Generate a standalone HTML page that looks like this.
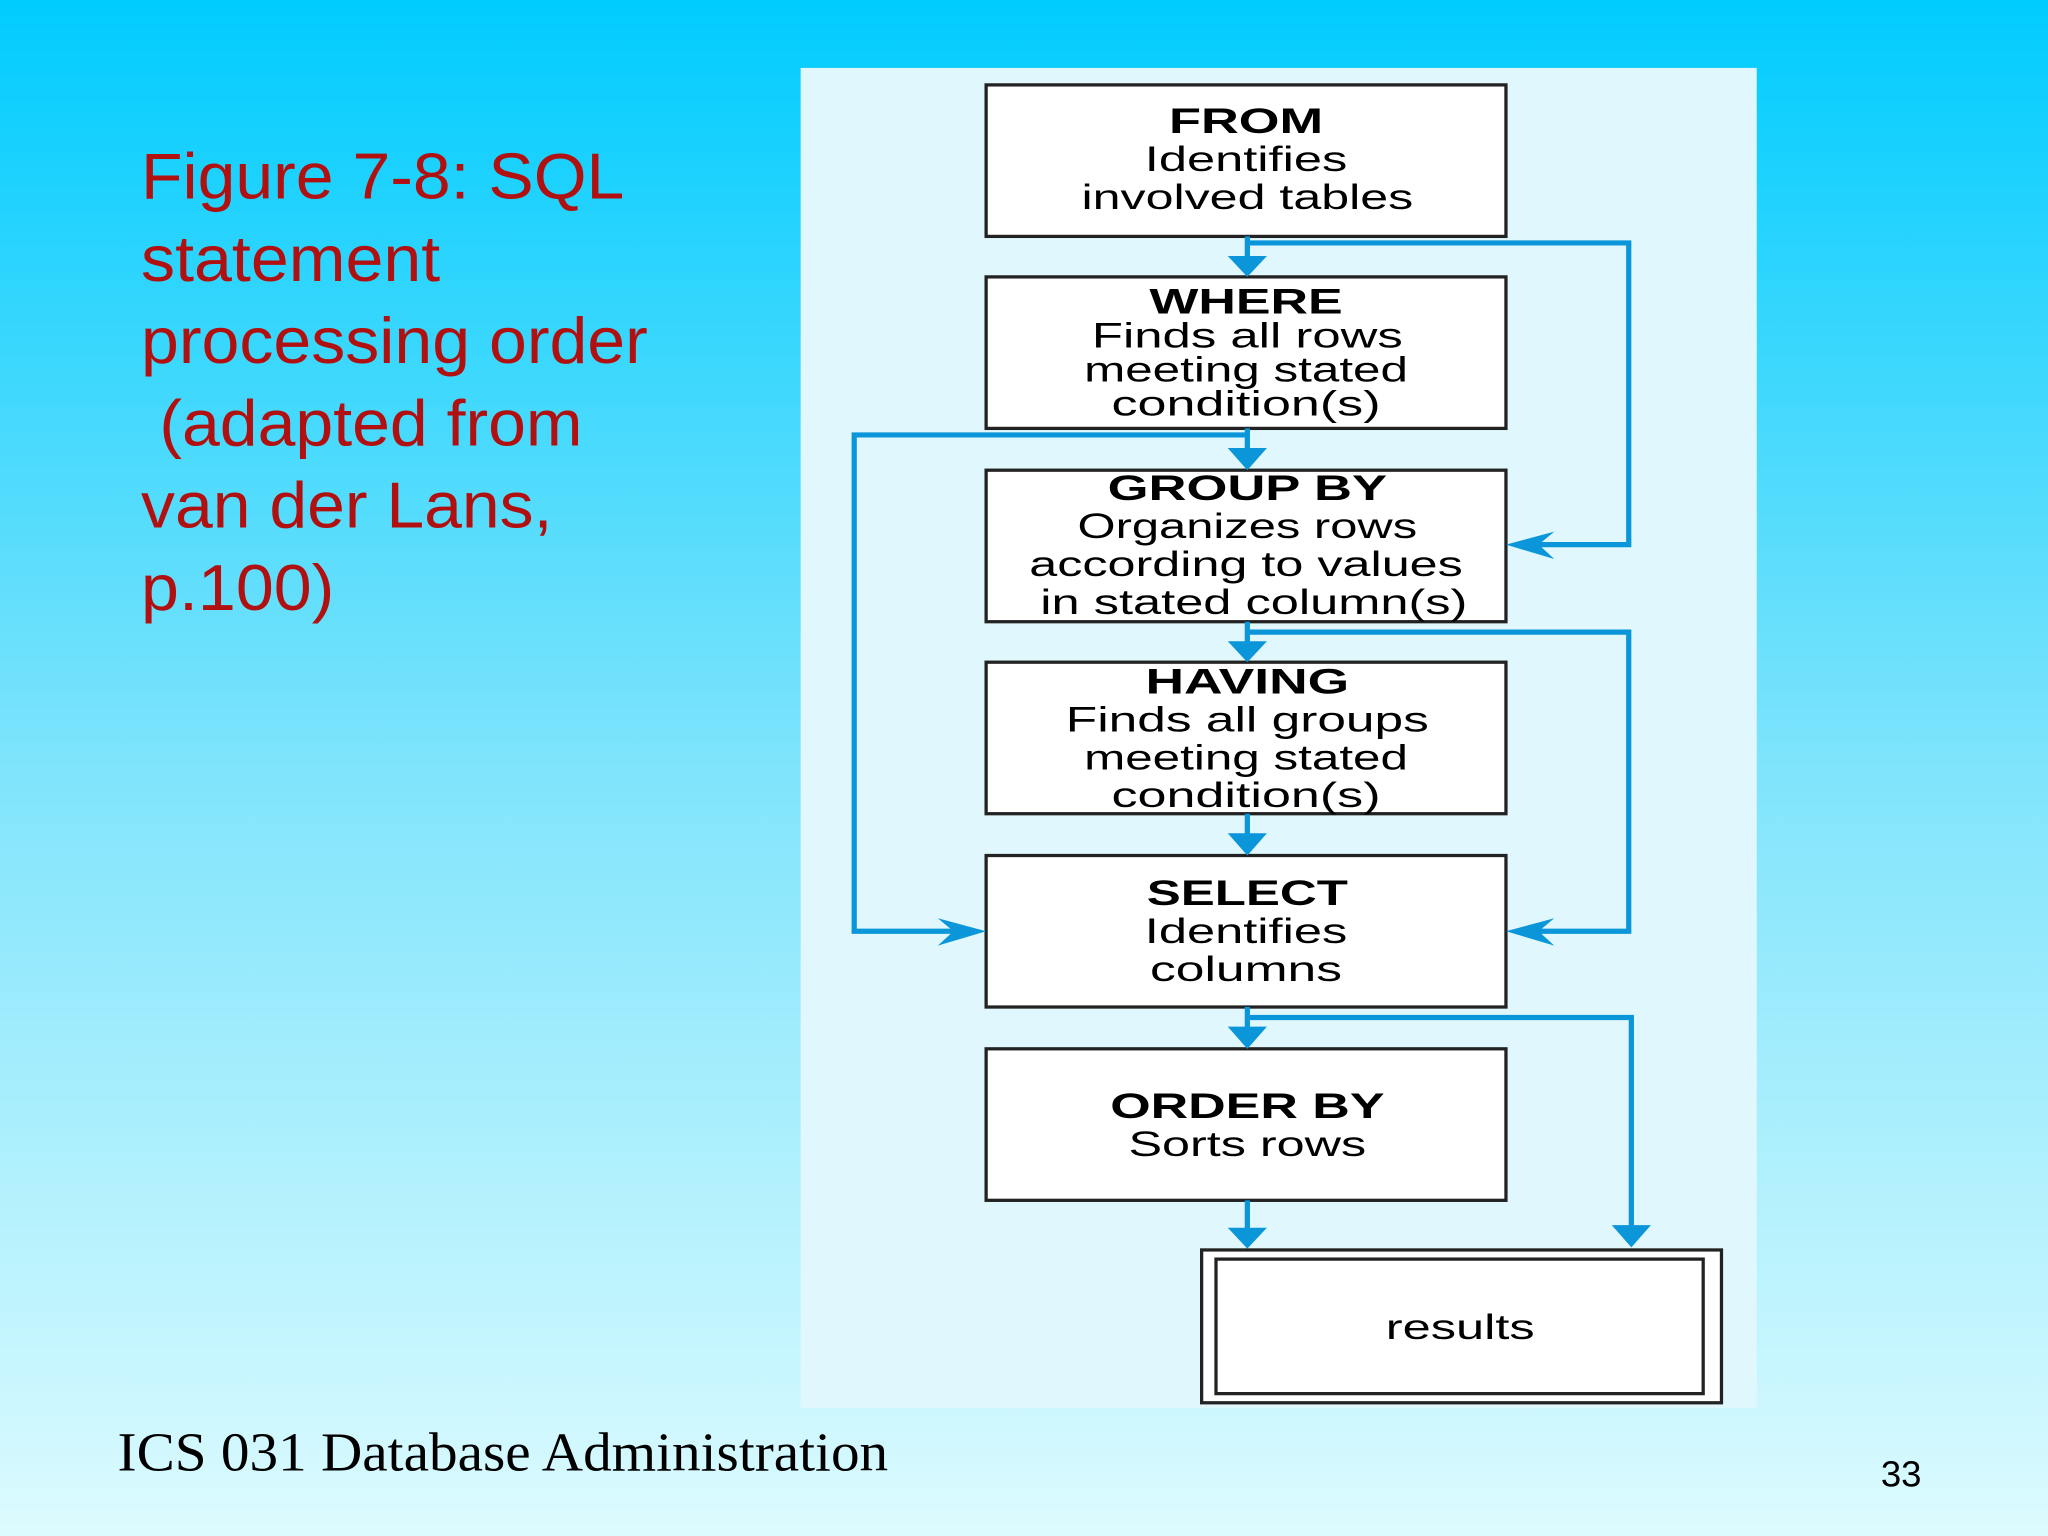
<!DOCTYPE html>
<html><head><meta charset="utf-8"><style>
html,body{margin:0;padding:0}
body{width:2048px;height:1536px;overflow:hidden;background:linear-gradient(#00ccfe,#7fe4fc 50%,#dcfbfe);}
svg{display:block}
.t{font-family:"Liberation Sans",sans-serif;fill:#000;font-size:27px;text-anchor:middle}
.h{font-weight:bold}
</style></head><body>
<svg width="2048" height="1536" viewBox="0 0 1568 1176" xmlns="http://www.w3.org/2000/svg">
<rect x="613" y="52" width="732" height="1026" fill="#e0f8fd"/>
<g font-family="Liberation Sans, sans-serif" font-size="50" fill="#b01010" lengthAdjust="spacingAndGlyphs">
<text x="108" y="152" textLength="370" lengthAdjust="spacingAndGlyphs">Figure 7-8: SQL</text>
<text x="108" y="215" textLength="229" lengthAdjust="spacingAndGlyphs">statement</text>
<text x="108" y="278" textLength="388" lengthAdjust="spacingAndGlyphs">processing order</text>
<text x="122" y="341" textLength="324" lengthAdjust="spacingAndGlyphs">(adapted from</text>
<text x="108" y="404" textLength="315" lengthAdjust="spacingAndGlyphs">van der Lans,</text>
<text x="108" y="467" textLength="148" lengthAdjust="spacingAndGlyphs">p.100)</text>
</g>
<text x="90" y="1126" font-family="Liberation Serif, serif" font-size="42" fill="#000" textLength="590" lengthAdjust="spacingAndGlyphs">ICS 031 Database Administration</text>
<text x="1440" y="1138" font-family="Liberation Sans, sans-serif" font-size="28" fill="#000">33</text>
<g fill="#fff" stroke="#222" stroke-width="2.5">
<rect x="755" y="65" width="398" height="116"/>
<rect x="755" y="212" width="398" height="116"/>
<rect x="755" y="360" width="398" height="116"/>
<rect x="755" y="507" width="398" height="116"/>
<rect x="755" y="655" width="398" height="116"/>
<rect x="755" y="803" width="398" height="116"/>
<rect x="920" y="957" width="398" height="117"/>
<rect x="931" y="964" width="373" height="103"/>
</g>
<g fill="none" stroke="#0a96d8" stroke-width="4">
<path d="M955 181V200M955 328V348M955 476V495M955 623V643M955 771V791M955 919V943"/>
<path d="M955 186H1247V417H1170"/>
<path d="M955 333H654V713H735"/>
<path d="M955 484H1247V713H1170"/>
<path d="M955 779H1249V940"/>
</g>
<g fill="#0a96d8">
<path d="M940 196L970 196L955 212Z"/><path d="M940 343L970 343L955 360Z"/>
<path d="M940 491L970 491L955 507Z"/><path d="M940 638L970 638L955 655Z"/>
<path d="M940 786L970 786L955 803Z"/><path d="M940 940L970 940L955 956Z"/>
<path d="M1234 938L1264 938L1249 955Z"/>
<path d="M1153 417L1190 407L1178 417L1190 428Z"/>
<path d="M1153 713L1190 703L1178 713L1190 724Z"/>
<path d="M755 713L718 703L730 713L718 724Z"/>
</g>
<g lengthAdjust="spacingAndGlyphs">
<text class="t h" x="954" y="102" textLength="118" lengthAdjust="spacingAndGlyphs">FROM</text>
<text class="t" x="954" y="131" textLength="155" lengthAdjust="spacingAndGlyphs">Identifies</text>
<text class="t" x="955" y="160" textLength="254" lengthAdjust="spacingAndGlyphs">involved tables</text>
<text class="t h" x="954" y="240" textLength="148" lengthAdjust="spacingAndGlyphs">WHERE</text>
<text class="t" x="955" y="266" textLength="238" lengthAdjust="spacingAndGlyphs">Finds all rows</text>
<text class="t" x="954" y="292" textLength="248" lengthAdjust="spacingAndGlyphs">meeting stated</text>
<text class="t" x="954" y="318" textLength="206" lengthAdjust="spacingAndGlyphs">condition(s)</text>
<text class="t h" x="955" y="383" textLength="214" lengthAdjust="spacingAndGlyphs">GROUP BY</text>
<text class="t" x="955" y="412" textLength="260" lengthAdjust="spacingAndGlyphs">Organizes rows</text>
<text class="t" x="954" y="441" textLength="332" lengthAdjust="spacingAndGlyphs">according to values</text>
<text class="t" x="960" y="470" textLength="327" lengthAdjust="spacingAndGlyphs">in stated column(s)</text>
<text class="t h" x="955" y="531" textLength="156" lengthAdjust="spacingAndGlyphs">HAVING</text>
<text class="t" x="955" y="560" textLength="278" lengthAdjust="spacingAndGlyphs">Finds all groups</text>
<text class="t" x="954" y="589" textLength="248" lengthAdjust="spacingAndGlyphs">meeting stated</text>
<text class="t" x="954" y="618" textLength="206" lengthAdjust="spacingAndGlyphs">condition(s)</text>
<text class="t h" x="955" y="693" textLength="154" lengthAdjust="spacingAndGlyphs">SELECT</text>
<text class="t" x="954" y="722" textLength="155" lengthAdjust="spacingAndGlyphs">Identifies</text>
<text class="t" x="954" y="751" textLength="147" lengthAdjust="spacingAndGlyphs">columns</text>
<text class="t h" x="955" y="856" textLength="210" lengthAdjust="spacingAndGlyphs">ORDER BY</text>
<text class="t" x="955" y="885" textLength="182" lengthAdjust="spacingAndGlyphs">Sorts rows</text>
<text class="t" x="1118" y="1025" textLength="114" lengthAdjust="spacingAndGlyphs">results</text>
</g>
</svg>
</body></html>
